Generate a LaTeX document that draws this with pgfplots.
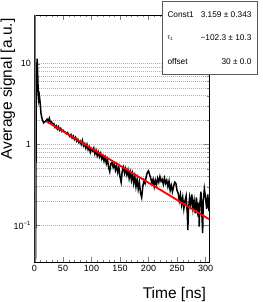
\documentclass[border=0pt]{standalone}
\usepackage{fontspec}
\setmainfont{Liberation Sans}
\usepackage{pgfplots}
\pgfplotsset{compat=1.18}
\pgfplotstableread{
t v
0 0.036
1 0.036
2 0.04
3 3.0
4 9.0
4.7 11.5
5.5 8
6.5 4.5
7.5 3.6
8.5 4.0
9.5 3.5
10.5 2.9
11.5 2.4
12.5 2.2
14 2.0
16 1.85
18 1.9
20 1.95
22 2.05
24 1.9
26 2.1
28 1.85
30 1.9
32 1.75
34 1.8
36 1.62
38 1.7
40 1.55
42 1.66
44 1.5
46 1.58
48 1.45
50 1.5
52 1.44
54 1.42
56 1.35
58 1.4
60 1.32
62 1.25
64 1.32
66 1.2
68 1.27
70 1.15
72 1.22
74 1.1
76 1.16
78 1.05
80 1.1
82 1.0
84 1.12
86 0.96
88 1.02
90 0.9
92 1.0
94 0.86
96 0.93
98 0.8
100 0.88
102 0.83
104 0.9
106 0.76
108 0.84
110 0.72
112 0.8
114 0.7
116 0.77
118 0.66
120 0.72
122 0.62
124 0.69
126 0.58
128 0.65
130 0.52
132 0.46
134 0.58
136 0.6
138 0.52
140 0.57
142 0.48
144 0.55
146 0.45
148 0.52
150 0.40
152 0.34
154 0.47
156 0.52
158 0.44
160 0.5
162 0.42
164 0.48
166 0.38
168 0.45
170 0.36
172 0.43
174 0.33
176 0.4
178 0.3
180 0.37
182 0.28
184 0.34
186 0.25
188 0.22
190 0.3
192 0.36
194 0.33
196 0.4
198 0.45
200 0.47
202 0.42
204 0.38
206 0.33
208 0.37
210 0.3
212 0.36
214 0.32
216 0.38
218 0.34
220 0.4
222 0.35
224 0.37
226 0.32
228 0.38
230 0.33
232 0.36
234 0.3
236 0.35
238 0.27
240 0.31
242 0.26
244 0.3
246 0.34
248 0.33
250 0.27
252 0.25
254 0.2
256 0.24
258 0.18
260 0.22
262 0.16
264 0.2
266 0.23
268 0.14
269 0.087
270 0.15
272 0.22
274 0.18
276 0.24
278 0.16
280 0.2
282 0.14
284 0.22
286 0.15
288 0.19
289 0.096
290 0.18
292 0.26
294 0.12
295 0.08
296 0.2
298 0.28
300 0.22
302 0.16
304 0.24
306 0.15
307 0.2
}\signal
\begin{document}
\begin{tikzpicture}
\useasboundingbox (-34.5pt,-40pt) rectangle (227.5pt,262pt);
\begin{axis}[
  at={(0,0)}, anchor=south west,
  scale only axis, width=175pt, height=247pt,
  xmin=0, xmax=307, ymode=log, ymin=0.035, ymax=40,
  xtick={0,50,...,300}, minor x tick num=4,
  ytick={0.1,1,10}, yticklabels={10\textsuperscript{−1},1,10},
  ymajorgrids, yminorgrids,
  major grid style={gray!60, dash pattern=on 1pt off 1pt, line width=0.6pt},
  minor grid style={gray!60, dash pattern=on 1pt off 1pt, line width=0.6pt},
  tick align=inside, tick pos=both,
  major tick length=5pt, minor tick length=2.5pt,
  tick label style={font=\fontsize{9}{10}\selectfont},
  /pgf/number format/assume math mode=true,
  axis line style={line width=0.7pt},
]
\addplot[black, line width=1.5pt] table[x=t, y=v] {\signal};
\addplot[red, line width=1.8pt] coordinates {(21,1.93) (306,0.119)};
\draw[black!55, line width=1.5pt] (rel axis cs:0.004,0) -- (rel axis cs:0.004,1);
\end{axis}
\node[rotate=90, anchor=base east, font=\fontsize{15.5}{18}\selectfont] at (-22.5pt,247pt) {Average signal [a.u.]};
\node[anchor=base east, font=\fontsize{15.5}{18}\selectfont] at (175pt,-36pt) {Time [ns]};
\draw[fill=white, draw=gray!70!black, line width=0.7pt] (127.5pt,188pt) rectangle (222.5pt,261pt);
\begin{scope}[every node/.style={font=\fontsize{8.3}{9}\selectfont, inner sep=0pt}]
\node[anchor=base west] at (132.8pt,244.7pt) {Const1};
\node[anchor=base east] at (217.2pt,244.7pt) {3.159 ± 0.343};
\node[anchor=base west, font=\fontsize{6.5}{7}\selectfont] at (132.8pt,222.3pt) {τ\textsubscript{1}};
\node[anchor=base east] at (217.2pt,221.3pt) {−102.3 ± 10.3};
\node[anchor=base west] at (132.8pt,197pt) {offset};
\node[anchor=base east] at (217.2pt,197pt) {30 ± 0.0};
\end{scope}
\end{tikzpicture}
\end{document}
